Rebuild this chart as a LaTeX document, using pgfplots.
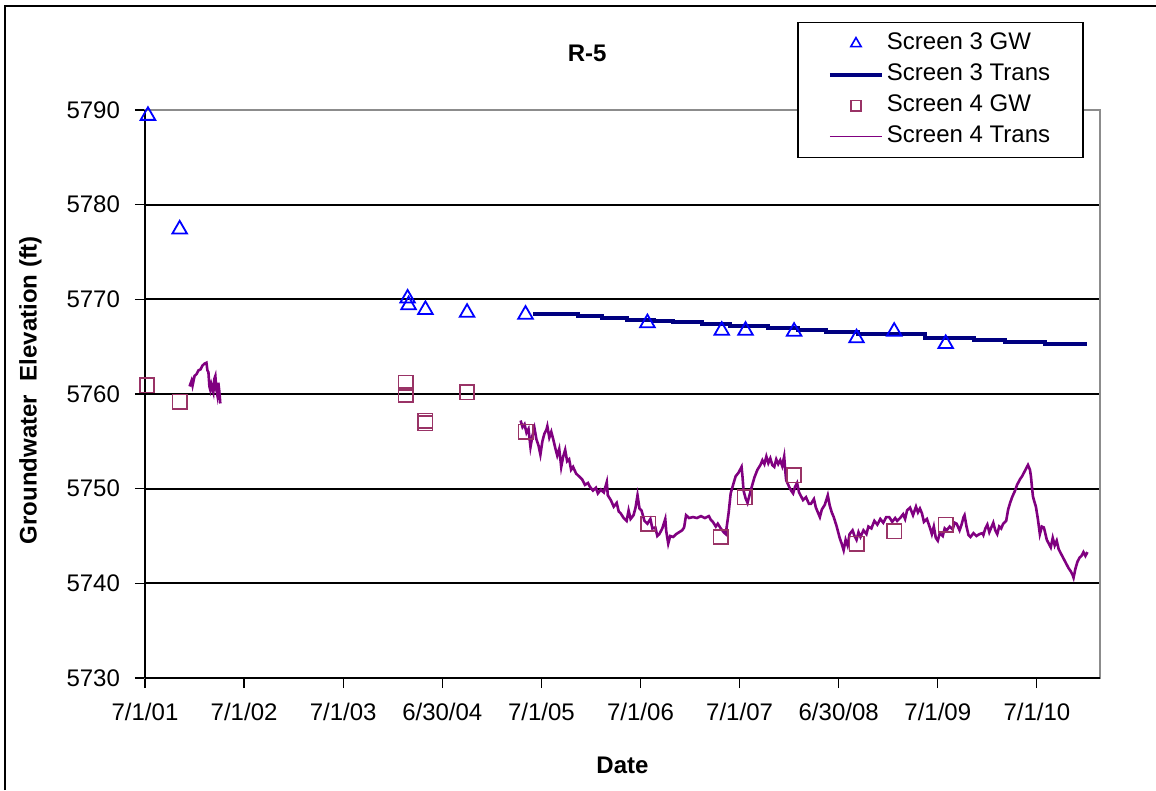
\documentclass[border=0pt]{standalone}
\usepackage{pgfplots}
\pgfplotsset{compat=1.18}
\usepackage{fontspec}
\setmainfont{Liberation Sans}
\definecolor{gwblue}{RGB}{0,0,255}
\definecolor{navyline}{RGB}{0,0,128}
\definecolor{sqcol}{RGB}{153,51,102}
\definecolor{purp}{RGB}{128,0,128}
\begin{document}
\begin{tikzpicture}
\begin{axis}[
  scale only axis,
  width=477.5pt, height=284pt,
  xmin=0, xmax=9.637,
  ymin=5730, ymax=5790,
  xtick={0,1,2,3,4,5,6,7,8,9},
  xticklabels={7/1/01,7/1/02,7/1/03,6/30/04,7/1/05,7/1/06,7/1/07,6/30/08,7/1/09,7/1/10},
  ytick={5730,5740,5750,5760,5770,5780,5790},
  /pgf/number format/assume math mode=true,
  /pgf/number format/1000 sep={},
  tick label style={font=\fontsize{12}{14}\selectfont},
  xtick pos=bottom, ytick pos=left,
  tick align=outside,
  major tick length=5pt,
  tick style={black, line width=0.6pt},
  xticklabel style={yshift=-4pt},
  yticklabel style={xshift=-4pt},
  ymajorgrids,
  grid style={black, line width=0.9pt},
  axis line style={gray!90, line width=1pt},
  clip=false,
  legend style={at={(rel axis cs:0.683,1.155)}, anchor=north west,
    draw=black, line width=0.7pt, fill=white, inner xsep=15pt, inner ysep=3pt,
    font=\fontsize{12}{14}\selectfont, row sep=0.5pt,
    nodes={inner sep=1.5pt, text height=9pt, text depth=3pt}},
  legend cell align=left,
  legend image code/.code={\draw[mark repeat=2,mark phase=2,#1] plot coordinates {(0pt,0pt) (13pt,0pt) (26pt,0pt)};},
]
% frame & bounding
\path (rel axis cs:-0.15183,-0.19718) coordinate (bbl) (rel axis cs:1.05864,1.19366) coordinate (btr);
\path (rel axis cs:-0.1466,1.18310) coordinate (ftl) (rel axis cs:-0.1466,-0.19718) coordinate (fbl) (rel axis cs:1.05864,1.18310) coordinate (ftr);
\draw[black, line width=1pt] (rel axis cs:0,0) -- (rel axis cs:0,1);
\draw[black, line width=1.3pt] (rel axis cs:0,0) -- (rel axis cs:1,0);

\addlegendimage{only marks, mark=triangle, mark size=3pt, gwblue, line width=0.8pt, mark options={fill=white}}
\addlegendentry{Screen 3 GW}
\addlegendimage{navyline, line width=2pt, no marks}
\addlegendentry{Screen 3 Trans}
\addlegendimage{only marks, mark=square, mark size=2.6pt, sqcol, line width=0.8pt, mark options={fill=white}}
\addlegendentry{Screen 4 GW}
\addlegendimage{purp, line width=0.6pt, no marks}
\addlegendentry{Screen 4 Trans}

% Screen 3 Trans (step line)
\addplot[navyline, line width=2pt, const plot, forget plot] coordinates {
(3.92,5768.45) (4.37,5768.28) (4.61,5768.03) (4.86,5767.78) (5.14,5767.74)
(5.33,5767.57) (5.62,5767.36) (5.90,5767.22) (6.29,5766.94) (6.59,5766.73)
(6.87,5766.55) (7.19,5766.30) (7.87,5765.91) (8.37,5765.70) (8.68,5765.46)
(9.08,5765.28) (9.51,5765.28)};

% Screen 4 Trans early
\addplot[purp, line width=1.3pt, forget plot] coordinates {
(0.45,5760.8) (0.47,5761.4) (0.48,5760.9) (0.50,5761.9) (0.52,5762.1) (0.54,5762.5)
(0.56,5762.6) (0.58,5763.0) (0.60,5763.2) (0.62,5763.3) (0.63,5762.5) (0.64,5762.3)
(0.65,5760.8) (0.66,5760.4) (0.67,5761.0) (0.69,5760.2) (0.70,5761.6) (0.71,5761.9)
(0.72,5760.5) (0.73,5759.9) (0.74,5761.2) (0.75,5760.3) (0.76,5759.0)};

% Screen 4 Trans main
\addplot[purp, line width=1.3pt, forget plot] coordinates {
(3.79,5757.2) (3.81,5756.5) (3.83,5756.8) (3.85,5755.9) (3.87,5756.3) (3.89,5754.4)
(3.91,5755.6) (3.93,5756.4) (3.95,5755.2) (3.97,5754.6) (3.99,5753.6) (4.01,5755.0)
(4.03,5755.8) (4.05,5756.2) (4.06,5756.6) (4.08,5755.4) (4.10,5756.0) (4.12,5755.2)
(4.14,5754.3) (4.16,5753.5) (4.18,5754.2) (4.20,5752.3) (4.22,5753.4) (4.24,5754.1)
(4.26,5752.9) (4.28,5753.1) (4.30,5752.0) (4.32,5752.3) (4.35,5751.6) (4.38,5751.3)
(4.41,5751.0) (4.44,5750.4) (4.47,5750.6) (4.49,5750.2) (4.52,5749.8) (4.55,5750.1)
(4.57,5749.5) (4.60,5749.9) (4.63,5749.6) (4.66,5750.7) (4.67,5749.3) (4.70,5748.8)
(4.73,5748.1) (4.76,5748.5) (4.78,5747.6) (4.80,5747.4) (4.83,5746.9) (4.86,5746.6)
(4.88,5747.7) (4.90,5746.8) (4.93,5747.2) (4.95,5748.0) (4.97,5749.3) (4.99,5747.9)
(5.01,5747.7) (5.04,5746.6) (5.07,5746.3) (5.10,5746.8) (5.12,5745.8) (5.15,5745.9)
(5.17,5745.0) (5.19,5745.2) (5.22,5745.8) (5.25,5746.8) (5.26,5745.5) (5.28,5744.2)
(5.30,5745.0) (5.33,5744.9) (5.36,5745.2) (5.39,5745.4) (5.42,5745.6) (5.44,5745.9)
(5.46,5747.2) (5.49,5746.9) (5.53,5747.0) (5.57,5746.9) (5.61,5747.1) (5.65,5746.9)
(5.69,5747.1) (5.71,5746.7) (5.73,5746.5) (5.76,5746.0) (5.78,5746.3) (5.81,5745.8)
(5.84,5745.4) (5.86,5745.2) (5.89,5747.5) (5.91,5749.5) (5.94,5750.6) (5.96,5751.3)
(5.99,5751.7) (6.02,5752.3) (6.03,5751.2) (6.04,5749.8) (6.06,5749.0) (6.08,5748.5)
(6.10,5749.3) (6.12,5750.1) (6.15,5751.2) (6.18,5752.0) (6.21,5752.5) (6.23,5753.0)
(6.25,5752.6) (6.27,5753.4) (6.29,5752.7) (6.31,5753.2) (6.33,5752.5) (6.35,5752.3)
(6.37,5753.1) (6.39,5752.6) (6.41,5753.0) (6.43,5752.4) (6.45,5753.4) (6.46,5752.0)
(6.47,5750.9) (6.50,5750.2) (6.52,5749.8) (6.54,5749.5) (6.56,5750.2) (6.58,5750.6)
(6.60,5749.6) (6.62,5749.2) (6.64,5748.8) (6.67,5749.1) (6.70,5748.4) (6.72,5748.4)
(6.75,5748.9) (6.77,5748.0) (6.79,5747.5) (6.81,5747.0) (6.83,5747.8) (6.86,5748.3)
(6.89,5749.3) (6.91,5748.2) (6.93,5747.5) (6.95,5747.0) (6.98,5746.0) (7.01,5744.8)
(7.03,5744.2) (7.05,5743.5) (7.07,5744.6) (7.09,5744.0) (7.11,5745.2) (7.14,5745.6)
(7.16,5745.0) (7.18,5744.6) (7.20,5745.4) (7.22,5744.9) (7.25,5745.6) (7.28,5745.2)
(7.30,5746.0) (7.33,5745.8) (7.36,5746.6) (7.39,5746.2) (7.42,5746.8) (7.45,5746.4)
(7.48,5747.0) (7.51,5747.0) (7.54,5746.5) (7.57,5746.9) (7.59,5746.6) (7.62,5746.9)
(7.65,5747.3) (7.67,5746.8) (7.69,5747.7) (7.72,5748.0) (7.75,5747.2) (7.78,5748.1)
(7.80,5747.5) (7.82,5747.9) (7.84,5747.4) (7.86,5746.5) (7.89,5746.8) (7.92,5745.9)
(7.94,5745.2) (7.96,5746.0) (7.98,5744.8) (8.00,5744.5) (8.02,5745.3) (8.05,5745.0)
(8.07,5745.8) (8.09,5745.6) (8.12,5746.0) (8.15,5745.7) (8.17,5746.4) (8.19,5746.3)
(8.22,5745.6) (8.24,5746.2) (8.26,5747.0) (8.27,5747.2) (8.29,5746.0) (8.31,5745.1)
(8.33,5744.9) (8.36,5745.3) (8.39,5745.0) (8.42,5745.2) (8.45,5745.3) (8.46,5745.1)
(8.48,5745.8) (8.50,5746.2) (8.52,5745.4) (8.54,5745.9) (8.56,5746.4) (8.58,5745.6)
(8.60,5745.2) (8.62,5746.0) (8.64,5745.8) (8.66,5746.3) (8.69,5746.6) (8.71,5747.8)
(8.73,5748.5) (8.75,5749.1) (8.78,5749.8) (8.80,5750.4) (8.83,5751.0) (8.85,5751.3)
(8.88,5751.9) (8.91,5752.5) (8.93,5752.0) (8.94,5751.3) (8.95,5750.2) (8.96,5749.2)
(8.97,5748.8) (8.99,5748.1) (9.01,5746.8) (9.03,5745.2) (9.05,5746.0) (9.07,5745.9)
(9.08,5745.5) (9.10,5744.6) (9.12,5744.2) (9.14,5743.8) (9.16,5744.8) (9.18,5744.0)
(9.20,5744.5) (9.22,5743.6) (9.24,5743.2) (9.26,5742.8) (9.28,5742.4) (9.30,5742.0)
(9.32,5741.6) (9.34,5741.3) (9.36,5740.9) (9.37,5740.6) (9.39,5741.6) (9.41,5742.3)
(9.43,5742.7) (9.45,5742.9) (9.47,5743.3) (9.49,5742.9) (9.51,5743.3)};

% Screen 3 GW
\addplot[only marks, mark=triangle, mark size=4.2pt, gwblue, line width=0.9pt, mark options={fill=white}, forget plot] coordinates {
(0.03,5789.4) (0.35,5777.4) (2.65,5770.1) (2.66,5769.4) (2.83,5768.9) (3.25,5768.6)
(3.84,5768.4) (5.07,5767.5) (5.82,5766.7) (6.06,5766.7) (6.55,5766.6) (7.18,5765.9)
(7.56,5766.6) (8.08,5765.3)};

% Screen 4 GW
\addplot[only marks, mark=square, mark size=3.6pt, sqcol, line width=0.8pt, mark options={fill=white}, forget plot] coordinates {
(0.02,5760.9) (0.35,5759.2) (2.63,5761.2) (2.63,5759.9) (2.83,5757.2) (2.83,5756.9)
(3.25,5760.2) (3.84,5756.0) (5.08,5746.3) (5.81,5744.9) (6.05,5749.1) (6.55,5751.4)
(7.18,5744.2) (7.56,5745.5) (8.08,5746.2)};

\node[font=\bfseries\fontsize{12}{14}\selectfont] at (rel axis cs:0.463,1.100) {R-5};
\node[font=\bfseries\fontsize{12}{14}\selectfont] at (rel axis cs:0.5,-0.153) {Date};
\node[font=\bfseries\fontsize{12}{14}\selectfont, rotate=90] at (rel axis cs:-0.120,0.507) {Groundwater\ \ Elevation (ft)};
\end{axis}
\useasboundingbox (bbl) rectangle (btr);
\draw[black, line width=0.8pt] (fbl) -- (ftl) -- (ftr);
\end{tikzpicture}
\end{document}
